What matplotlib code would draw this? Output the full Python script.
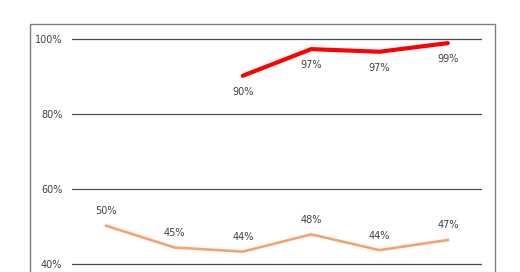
import numpy as np
import matplotlib.pyplot as plt
from matplotlib.patches import Rectangle

# six periods, labels are cut off in the reference
periods = [1, 2, 3, 4, 5, 6]
red_vals = [np.nan, np.nan, 90.2, 97.3, 96.6, 98.9]
red_labels = ['', '', '90%', '97%', '97%', '99%']
orange_vals = [50.2, 44.4, 43.3, 47.9, 43.7, 46.4]
orange_labels = ['50%', '45%', '44%', '48%', '44%', '47%']
yticks = [40, 60, 80, 100]

W, H = 520, 272
fig = plt.figure(figsize=(W / 100, H / 100), dpi=100)
ax = fig.add_axes([72 / W, 0, 410 / W, 1])

x = np.arange(len(periods))
ax.plot(x, red_vals, color='#FF0000', lw=3.0, solid_capstyle='round', zorder=3)
ax.plot(x, orange_vals, color='#F4A36C', lw=1.9, zorder=3)

for xi, v, lab in zip(x, red_vals, red_labels):
    if lab:
        ax.annotate(lab, (xi, v), xytext=(0, -11.5), textcoords='offset points',
                    ha='center', va='center', fontsize=7, color='#404040')
for xi, v, lab in zip(x, orange_vals, orange_labels):
    ax.annotate(lab, (xi, v), xytext=(0, 10.5), textcoords='offset points',
                ha='center', va='center', fontsize=7, color='#404040')

ax.set_xlim(-0.5, len(periods) - 0.5)
ax.set_ylim(40 - 8 / 75 * 20, 40 + 264 / 75 * 20)
ax.set_yticks(yticks)
ax.set_yticklabels(['%d%%' % t for t in yticks], fontsize=7, color='#404040')
ax.tick_params(axis='y', length=0, pad=7)
ax.set_xticks([])
ax.yaxis.grid(True, color='#4D4D4D', lw=0.9)
ax.set_axisbelow(True)
for s in ax.spines.values():
    s.set_visible(False)

# chart area border
fig.patches.append(Rectangle((30 / W, -0.2), 465 / W, (H - 24) / H + 0.2,
                             transform=fig.transFigure, fill=False,
                             edgecolor='#7F7F7F', lw=1.0))

fig.savefig('out.png', dpi=100)
